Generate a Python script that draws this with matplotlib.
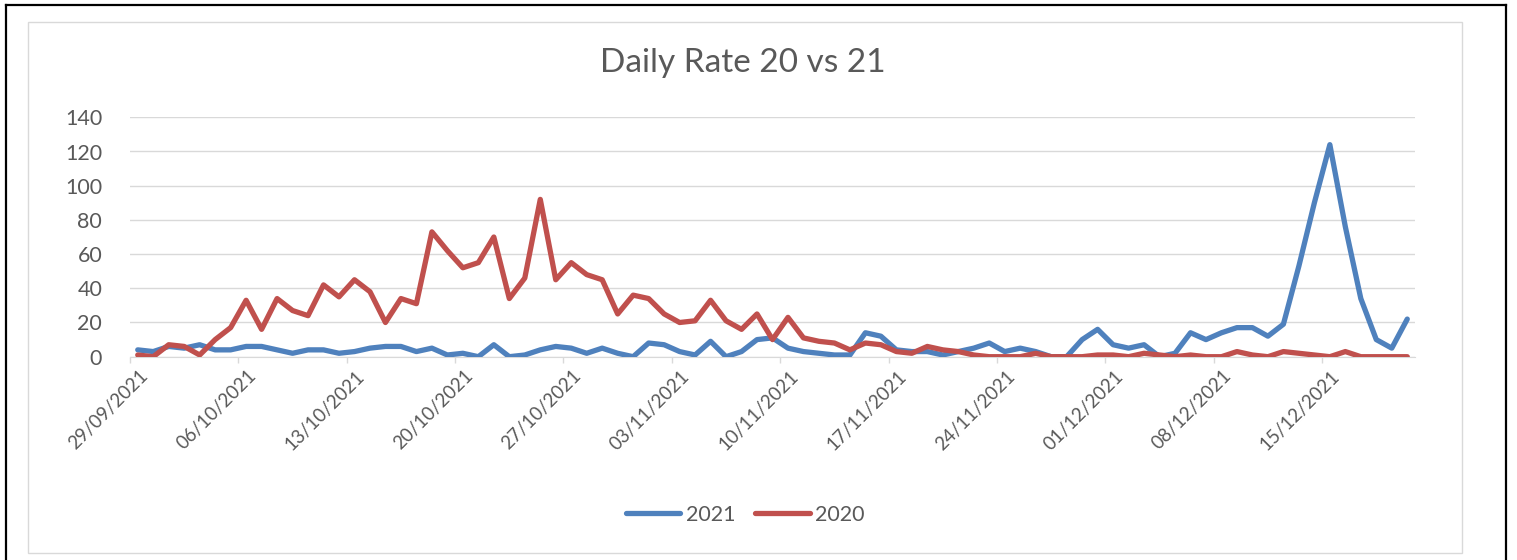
import matplotlib
matplotlib.use("Agg")
import matplotlib.pyplot as plt
import matplotlib.dates as mdates
from matplotlib.patches import Rectangle
from matplotlib.lines import Line2D
from matplotlib.transforms import ScaledTranslation
import pandas as pd

dates = pd.date_range("2021-09-29", periods=83, freq="D")
rate_2021 = [4, 3, 6, 5, 7, 4, 4, 6, 6, 4,
             2, 4, 4, 2, 3, 5, 6, 6, 3, 5,
             1, 2, 0, 7, 0, 1, 4, 6, 5, 2,
             5, 2, 0, 8, 7, 3, 1, 9, 0, 3,
             10, 11, 5, 3, 2, 1, 1, 14, 12, 4,
             3, 3, 1, 3, 5, 8, 3, 5, 3, 0,
             0, 10, 16, 7, 5, 7, 0, 2, 14, 10,
             14, 17, 17, 12, 19, 53, 90, 124, 76, 34,
             10, 5, 22]
rate_2020 = [1, 0, 7, 6, 1, 10, 17, 33, 16, 34,
             27, 24, 42, 35, 45, 38, 20, 34, 31, 73,
             62, 52, 55, 70, 34, 46, 92, 45, 55, 48,
             45, 25, 36, 34, 25, 20, 21, 33, 21, 16,
             25, 10, 23, 11, 9, 8, 4, 8, 7, 3,
             2, 6, 4, 3, 1, 0, 0, 0, 2, 0,
             0, 0, 1, 1, 0, 2, 1, 0, 1, 0,
             0, 3, 1, 0, 3, 2, 1, 0, 3, 0,
             0, 0, 0]
series = ["2021", "2020"]
title = "Daily Rate 20 vs 21"

plt.rcParams['font.family'] = ['Lato', 'DejaVu Sans']
W, H = 1517, 560
grey = '#d9d9d9'
txt = '#595959'

fig = plt.figure(figsize=(W / 100, H / 100), dpi=100)
ax = fig.add_axes([130 / W, 1 - 356.7 / H, (1415 - 130) / W, (356.7 - 117.3) / H])

# points sit in the middle of each day, ticks on day boundaries
xpos = dates + pd.Timedelta(hours=12)
ax.plot(xpos, rate_2021, color='#4f81bd', lw=3.8, label=series[0],
        solid_capstyle='round', solid_joinstyle='round', zorder=3)
ax.plot(xpos, rate_2020, color='#c0504d', lw=3.8, label=series[1],
        solid_capstyle='round', solid_joinstyle='round', zorder=3)

ax.set_xlim(dates[0], dates[-1] + pd.Timedelta(days=1))
ax.set_ylim(0, 140)
ax.set_yticks(range(0, 141, 20))
ax.set_xticks(dates[::7])
ax.xaxis.set_major_formatter(mdates.DateFormatter('%d/%m/%Y'))

ax.grid(axis='y', color=grey, lw=1)
ax.set_axisbelow(True)
for s in ['top', 'right', 'left']:
    ax.spines[s].set_visible(False)
ax.spines['bottom'].set_color(grey)
ax.tick_params(axis='y', length=0, pad=20, labelsize=15.5, labelcolor=txt)
ax.tick_params(axis='x', length=4.5, width=1, color=grey, pad=3,
               labelsize=13.5, labelcolor=txt)
shift = ScaledTranslation(9 / 100, 0, fig.dpi_scale_trans)
for lab in ax.get_xticklabels():
    lab.set_rotation(45)
    lab.set_ha('right')
    lab.set_va('top')
    lab.set_rotation_mode('anchor')
    lab.set_transform(lab.get_transform() + shift)

fig.text(742.5 / W, 1 - 63 / H, title, ha='center', va='center',
         fontsize=24, color=txt)
fig.legend(loc='center', bbox_to_anchor=(745 / W, 1 - 515 / H), ncol=2,
           frameon=False, fontsize=15.5, labelcolor=txt, handlelength=2.55,
           handletextpad=0.25, columnspacing=0.9)

# chart area border and the outer black frame
fig.add_artist(Rectangle((28 / W, 1 - 553 / H), (1462 - 28) / W, (553 - 22) / H,
                         transform=fig.transFigure, fill=False,
                         edgecolor=grey, lw=1))
fig.add_artist(Line2D([6 / W, 6 / W], [0, 1 - 5 / H], color='black', lw=1.6,
                      transform=fig.transFigure))
fig.add_artist(Line2D([6 / W, 1506 / W], [1 - 5 / H, 1 - 5 / H], color='black',
                      lw=1.6, transform=fig.transFigure))
fig.add_artist(Line2D([1506 / W, 1506 / W], [0, 1 - 5 / H], color='black', lw=1.6,
                      transform=fig.transFigure))

fig.savefig('out.png', dpi=100)
